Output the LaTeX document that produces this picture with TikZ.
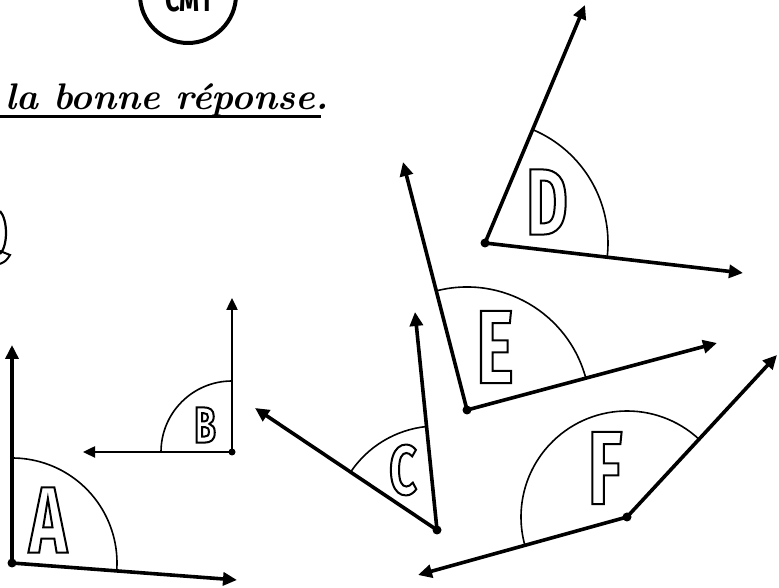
\documentclass[tikz,border=0pt]{standalone}
\usepackage{fontspec}
\usepackage{graphicx}
\usetikzlibrary{arrows.meta,angles}
\newfontfamily\letfont[FakeStretch=0.68]{Fira Sans}
\newfontfamily\badgefont[FakeStretch=0.75]{Fira Sans}
\newcommand\olet[2]{{\letfont\bfseries\fontsize{#2}{#2}\selectfont\special{pdf:code q 2 Tr 2 w 0 0 0 RG 1 1 1 rg}#1\special{pdf:code Q}}}
\tikzset{
  ray/.style={line width=3.6pt, -{Triangle[length=14pt,width=13pt]}},
  thinray/.style={line width=2.4pt, -{Triangle[length=12pt,width=11pt]}},
  arcline/.style={draw, line width=1.6pt},
  vdot/.style={circle, fill, inner sep=0pt, minimum size=9pt},
  lbl/.style={inner sep=0pt}
}
\begin{document}
\begin{tikzpicture}[x=1pt,y=1pt]
\clip (0,0) rectangle (779,588);
\useasboundingbox (0,0) rectangle (779,588);
% badge at top
\node[draw, circle, line width=4pt, minimum size=96pt, inner sep=0pt] (badge) at (188,593) {};
\node[anchor=base, inner sep=0pt, font=\badgefont\bfseries\fontsize{34}{34}\selectfont] (cm) at (188,576) {CM1};
% title
\node[anchor=base west, inner sep=0pt, font=\fontsize{37}{40}\selectfont\bfseries\itshape] (title) at (5,478) {la bonne réponse.};
\coordinate (ul1) at (0,471);
\coordinate (ul2) at (321,471);
\draw[line width=3pt] (ul1) -- (ul2);
% cut icon at left
\coordinate (ic1) at (0,377);
\coordinate (ic2) at (0,334);
\coordinate (ic3) at (10,333);
\coordinate (ic4) at (0,324);
\draw[line width=2.2pt] (ic1) .. controls (8,368) and (8,342) .. (ic2);
\draw[line width=2pt] (0,337) -- (ic3) .. controls (6,327) .. (ic4);
% angle A
\coordinate (A) at (12,25);
\coordinate (Au) at (12,243);
\coordinate (Ar) at (237,8);
\draw[ray] (A) -- (Au);
\draw[ray] (A) -- (Ar);
\pic[arcline, angle radius=105pt] {angle=Ar--A--Au};
\node[vdot] (dA) at (A) {};
\node[lbl] (lA) at (48,68) {\olet{A}{94}};
% angle B
\coordinate (B) at (232,136);
\coordinate (Bu) at (232,290);
\coordinate (Bl) at (83,136);
\draw[thinray] (B) -- (Bu);
\draw[thinray] (B) -- (Bl);
\pic[arcline, angle radius=71pt] {angle=Bu--B--Bl};
\node[vdot, minimum size=7pt] (dB) at (B) {};
\node[lbl] (lB) at (205,163) {\olet{B}{51}};
% angle C
\coordinate (C) at (437,58);
\coordinate (Cu) at (415,276);
\coordinate (Cl) at (255,180);
\draw[ray] (C) -- (Cu);
\draw[ray] (C) -- (Cl);
\pic[arcline, angle radius=104pt] {angle=Cu--C--Cl};
\node[vdot] (dC) at (C) {};
\node[lbl] (lC) at (403,118) {\olet{C}{70}};
% angle D
\coordinate (D) at (485,345);
\coordinate (Du) at (585,583);
\coordinate (Dr) at (743,315);
\draw[ray] (D) -- (Du);
\draw[ray] (D) -- (Dr);
\pic[arcline, angle radius=123pt] {angle=Dr--D--Du};
\node[vdot] (dD) at (D) {};
\node[lbl] (lD) at (547,386) {\olet{D}{94}};
% angle E
\coordinate (E) at (467,178);
\coordinate (Eu) at (403,426);
\coordinate (Er) at (717,245);
\draw[ray] (E) -- (Eu);
\draw[ray] (E) -- (Er);
\pic[arcline, angle radius=123pt] {angle=Er--E--Eu};
\node[vdot] (dE) at (E) {};
\node[lbl] (lE) at (495,241) {\olet{E}{104}};
% angle F
\coordinate (F) at (627,71);
\coordinate (Fu) at (777,233);
\coordinate (Fl) at (418,13);
\draw[ray] (F) -- (Fu);
\draw[ray] (F) -- (Fl);
\pic[arcline, angle radius=106pt] {angle=Fu--F--Fl};
\node[vdot] (dF) at (F) {};
\node[lbl] (lF) at (605,120) {\olet{F}{104}};
\end{tikzpicture}
\end{document}
